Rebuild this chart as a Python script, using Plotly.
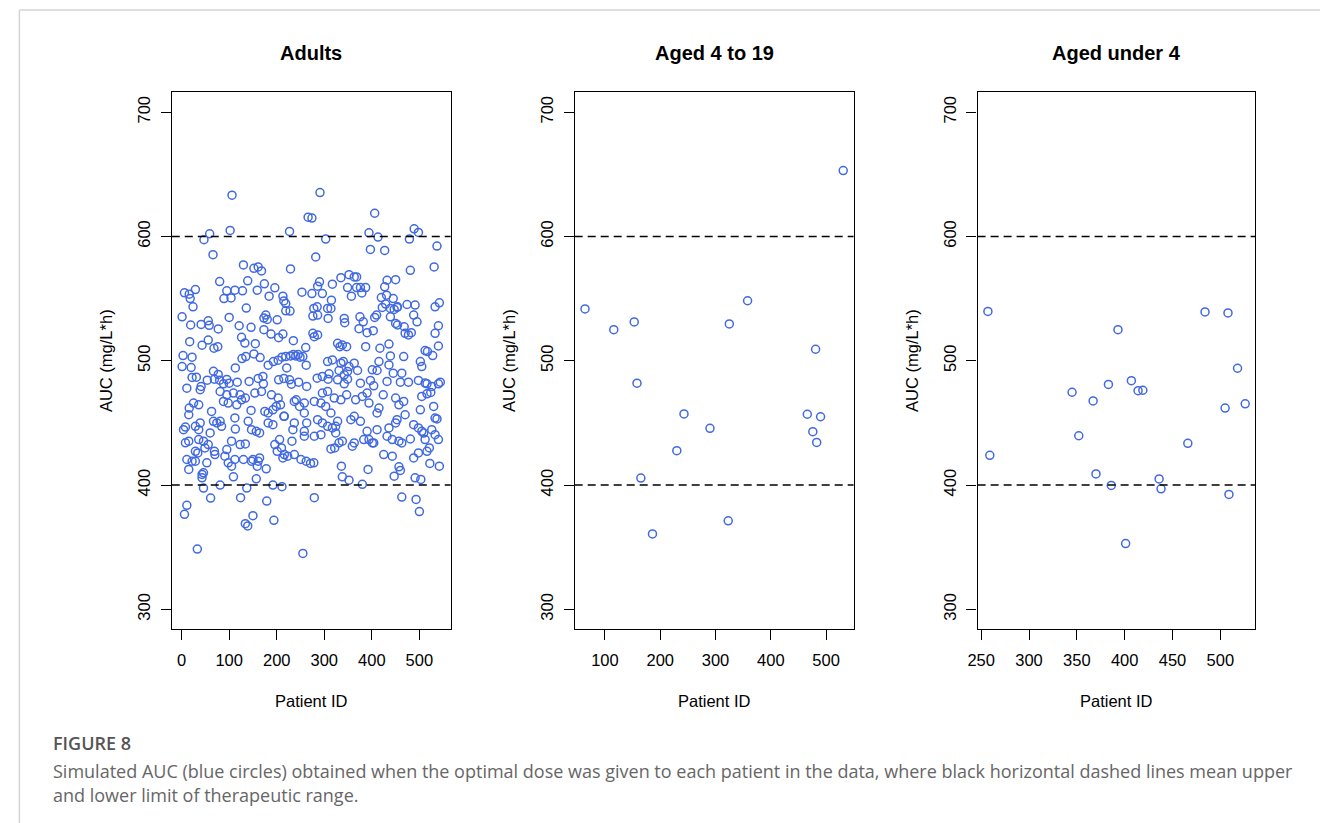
import plotly.graph_objects as go

# ---------------- data ----------------
adults_id = [106, 266, 274, 59, 47, 102, 227, 66, 130, 152, 161, 168, 229, 80, 139, 174, 95, 112, 128, 159, 196,
             6, 16, 29, 18, 89, 104, 184, 213, 215, 219, 253, 24, 136, 219, 228, 1, 100, 19, 41, 56, 58, 121, 146,
             173, 173, 177, 180, 201, 77, 188, 204, 213, 235, 17, 43, 56, 68, 76, 126, 133, 155, 261, 3, 22, 127,
             135, 152, 165, 182, 193, 203, 211, 219, 229, 235, 240, 245, 249, 255, 262, 1, 20, 113, 221,
             11, 22, 31, 41, 54, 67, 77, 69, 80, 88, 95, 100, 117, 142, 161, 171, 172, 204, 215, 227, 231, 246, 263,
             39, 81, 95, 109, 123, 134, 154, 168, 189, 203, 241, 258,
             16, 25, 36, 15, 63, 88, 98, 116, 126, 146, 175, 182, 192, 199, 208, 215, 237, 248, 258,
             4, 8, 29, 36, 39, 60, 67, 74, 81, 84, 112, 113, 140, 147, 157, 164, 182, 192, 216, 234, 237, 258, 263,
             8, 15, 36, 46, 56, 49, 34, 29, 69, 70, 105, 123, 134, 95, 91, 112, 196, 201, 206, 210, 216, 213, 223,
             232, 237, 258,
             11, 22, 29, 53, 15, 43, 46, 98, 105, 130, 147, 150, 161, 164, 159, 178, 109, 157, 251, 262,
             43, 46, 81, 61, 124, 137, 192, 211, 179, 11, 6, 150, 134, 139, 194, 33, 255,
             291, 406, 394, 413, 427, 397, 303, 489, 498, 479, 537, 282, 481, 531,
             335, 352, 363, 368, 450, 432, 427, 387, 376, 368, 349, 290, 286, 317, 274, 296, 357, 379,
             420, 431, 445, 453, 454, 429, 422, 439, 447, 315, 474, 491, 533, 542, 540, 533, 540,
             276, 286, 278, 285, 276, 286, 279, 308, 307, 314, 342, 343, 375, 382, 373, 390, 403, 406, 410,
             439, 450, 454, 468, 470, 477, 483, 488, 495, 328, 338, 347, 333, 387, 417, 436, 467, 512, 517,
             502, 505, 528, 307, 317, 335, 340, 352, 363, 370, 349, 331, 415, 411, 401, 439, 436, 445, 463,
             477, 460, 432, 516, 526, 544, 540, 498, 512, 285, 296, 310, 308, 342, 349, 376, 397, 404, 342, 328,
             296, 307, 293, 303, 314, 279, 321, 335, 347, 366, 380, 394, 390, 411, 415, 424, 450, 457, 467,
             505, 516, 524, 530, 537, 502, 470,
             286, 296, 307, 317, 324, 328, 331, 338, 324, 279, 293, 356, 363, 376, 359, 363, 390, 383, 394, 401,
             404, 411, 436, 432, 443, 453, 450, 457, 463, 481, 488, 498, 505, 512, 509, 526, 533, 540, 533, 314,
             322, 425, 443, 488, 498, 516, 521, 271, 278, 336, 392, 457, 460, 447, 522, 542, 338, 352, 380, 491,
             503, 279, 463, 493, 500]
adults_auc = [633.2, 615.5, 614.8, 602.2, 597.4, 604.9, 604.1, 585.4, 577.1, 574.4, 575.5, 572.3, 573.9, 563.7,
              564.3, 561.9, 556.3, 556.8, 556.3, 556.8, 558.7, 554.7, 553.6, 557.3, 550.1, 550.1, 550.6, 552.0,
              552.0, 548.2, 546.1, 555.2, 543.4, 542.4, 540.2, 540.0, 535.4, 534.9, 528.8, 529.3, 532.2, 528.5,
              528.2, 526.9, 525.0, 534.4, 536.8, 533.3, 533.0, 525.6, 521.5, 518.6, 521.5, 516.2, 515.4, 512.5,
              516.7, 510.1, 511.4, 518.9, 514.3, 513.8, 510.6, 504.2, 502.9, 501.8, 503.4, 505.5, 502.6, 496.5,
              499.4, 500.5, 502.9, 503.4, 503.9, 505.0, 503.9, 505.0, 502.9, 503.4, 496.5, 495.4, 494.6, 494.3,
              494.3,
              478.0, 486.6, 486.8, 479.4, 484.4, 491.6, 489.0, 485.2, 484.4, 481.5, 485.0, 482.0, 482.8, 483.4,
              485.8, 487.4, 481.5, 484.7, 485.8, 484.7, 481.2, 482.8, 479.4,
              476.7, 475.3, 472.6, 474.0, 472.6, 470.0, 474.0, 475.3, 472.6, 470.0, 468.6, 466.0,
              462.0, 466.0, 464.6, 456.6, 459.3, 467.3, 466.0, 464.6, 468.6, 460.1, 459.3, 458.0, 460.6, 463.3,
              464.6, 455.3, 467.3, 463.3, 458.0,
              444.6, 446.7, 447.3, 444.6, 450.0, 442.0, 451.3, 450.0, 451.3, 447.3, 454.0, 445.1, 451.3, 444.6,
              443.3, 442.0, 450.0, 448.6, 455.3, 444.6, 450.0, 443.3, 450.0,
              434.0, 435.3, 436.6, 435.3, 432.6, 429.9, 425.9, 427.2, 427.2, 424.6, 435.3, 432.6, 433.1, 428.6,
              423.3, 420.6, 432.6, 427.2, 436.6, 429.9, 424.6, 421.9, 423.3, 435.3, 424.6, 439.3,
              420.6, 419.2, 419.2, 417.9, 412.6, 408.6, 409.9, 417.9, 415.2, 420.6, 419.2, 420.6, 419.2, 421.9,
              415.2, 413.1, 406.7, 405.1, 420.6, 419.2,
              405.9, 397.6, 400.0, 389.6, 389.9, 397.6, 400.0, 398.7, 387.2, 383.7, 376.5, 375.4, 369.0, 367.2,
              371.7, 348.5, 345.0,
              635.3, 618.7, 603.0, 599.5, 588.8, 589.6, 597.9, 606.2, 603.3, 597.9, 592.3, 583.5, 572.8, 575.5,
              566.9, 569.3, 567.5, 567.5, 565.3, 564.8, 559.5, 558.9, 558.9, 558.9, 558.9, 563.5, 560.0, 561.6,
              554.1, 554.1, 552.0, 554.6,
              550.9, 552.8, 550.1, 542.9, 543.4, 545.6, 542.9, 542.1, 541.3, 548.8, 545.3, 544.8, 543.4, 546.6,
              528.2, 522.1, 511.9,
              536.0, 536.8, 542.1, 543.4, 522.1, 520.8, 519.4, 534.1, 542.1, 542.1, 534.1, 530.6, 535.4, 531.4,
              525.8, 522.6, 524.2, 534.9, 536.8,
              535.4, 530.1, 528.8, 527.4, 522.1, 520.8, 522.6, 536.8, 531.4, 514.1, 512.7, 511.4, 511.4, 511.4,
              510.1, 513.5, 503.4, 508.2, 507.4,
              499.4, 495.4, 504.2, 499.4, 500.7, 498.1, 499.4, 495.4, 498.1, 492.2, 491.4, 492.2, 499.4, 492.2,
              492.7, 503.9, 496.7, 490.0, 490.0,
              482.8, 482.8, 483.4, 481.5, 479.4, 482.8, 481.5, 484.2, 482.1, 486.0, 487.4, 489.5, 485.2, 488.7,
              485.2, 482.0, 484.2, 479.9, 481.5, 484.7,
              474.0, 475.3, 466.0, 463.3, 458.0, 467.3, 470.0, 468.6, 472.6, 468.6, 471.3, 466.0, 474.0, 458.0,
              462.0, 472.6, 470.0, 464.6, 467.3,
              471.3, 473.4, 474.5, 463.3, 453.2, 460.6, 456.6,
              452.6, 450.0, 447.3, 446.0, 447.3, 451.3, 434.0, 435.3, 442.0, 439.3, 440.6, 452.6, 455.3, 451.3,
              431.3, 433.9, 443.3, 436.6, 436.6, 433.9, 433.9, 444.6, 446.0, 439.3, 436.6, 452.6, 450.0, 435.3,
              433.9, 437.1, 448.6, 446.0, 443.3, 436.6, 441.9, 444.6, 440.6, 436.6, 453.9, 429.1,
              429.9, 424.6, 423.3, 421.9, 425.9, 427.2, 429.9, 417.4, 417.9, 415.2, 412.6, 414.7, 411.8, 407.2,
              417.4, 415.2, 406.7, 404.0, 400.6, 405.9,
              404.6, 389.9, 390.4, 388.5, 378.7]

teen_id = [64, 116, 153, 158, 165, 186, 230, 243, 290, 323, 325, 358, 466, 476, 481, 483, 490, 531]
teen_auc = [541.7, 525.0, 531.3, 482.0, 405.7, 360.7, 427.7, 457.3, 445.7, 371.3, 529.7, 548.3, 457.0, 443.0,
            509.3, 434.3, 455.0, 653.0]

under4_id = [257, 259, 345, 352, 367, 370, 383, 386, 393, 401, 407, 414, 419, 436, 438, 466, 484, 505, 508, 509,
             518, 526]
under4_auc = [539.7, 424.0, 474.7, 439.7, 467.7, 409.0, 481.0, 399.7, 525.0, 353.0, 484.0, 476.0, 476.3, 405.0,
              397.0, 433.6, 539.3, 462.0, 538.5, 392.5, 494.0, 465.4]

titles = ["Adults", "Aged 4 to 19", "Aged under 4"]
limits = [400, 600]
x_ticks = [[0, 100, 200, 300, 400, 500], [100, 200, 300, 400, 500], [250, 300, 350, 400, 450, 500]]
y_ticks = [300, 400, 500, 600, 700]

# ---------------- layout helpers ----------------
W, H = 1320, 823
panels_px = [(163, 444), (569, 850), (975, 1255)]
frame_top, frame_bot = 92.3, 629.3
blue = "rgb(65,105,225)"
font = "Liberation Sans, Arial, sans-serif"


def r_range(vals):
    lo, hi = min(vals), max(vals)
    d = (hi - lo) * 0.04
    return [lo - d, hi + d]


series = [(adults_id, adults_auc), (teen_id, teen_auc), (under4_id, under4_auc)]

fig = go.Figure()
for i, (xs, ys) in enumerate(series):
    sfx = "" if i == 0 else str(i + 1)
    fig.add_trace(go.Scatter(
        x=xs, y=ys, mode="markers", xaxis="x" + sfx, yaxis="y" + sfx,
        marker=dict(symbol="circle-open", size=8, color=blue, line=dict(width=1.5, color=blue)),
        showlegend=False, hoverinfo="x+y"))

layout = dict(width=W, height=H, margin=dict(l=0, r=0, t=0, b=0),
              paper_bgcolor="white", plot_bgcolor="white", showlegend=False,
              font=dict(family=font, color="black"))
shapes = []
annotations = []
ydom = [1 - frame_bot / H, 1 - frame_top / H]
for i, (xs, ys) in enumerate(series):
    sfx = "" if i == 0 else str(i + 1)
    l, r = panels_px[i]
    axstyle = dict(showline=True, mirror=True, linecolor="black", linewidth=1.3, showgrid=False,
                   zeroline=False, ticks="outside", ticklen=10, tickwidth=1.3, tickcolor="black",
                   tickfont=dict(family=font, size=16.5, color="black"))
    layout["xaxis" + sfx] = dict(domain=[l / W, r / W], range=r_range(xs), tickvals=x_ticks[i],
                                 anchor="y" + sfx, ticklabelstandoff=6, **axstyle)
    layout["yaxis" + sfx] = dict(domain=ydom, range=[284, 716], tickvals=y_ticks, tickangle=-90,
                                 anchor="x" + sfx, ticklabelstandoff=4, **axstyle)
    for lim in limits:
        shapes.append(dict(type="line", xref="x" + sfx + " domain", yref="y" + sfx, x0=0, x1=1, y0=lim, y1=lim,
                           line=dict(color="black", width=1.5, dash="8px,5px")))
    cx = (l + r) / 2 / W
    annotations.append(dict(text="<b>" + titles[i] + "</b>", x=cx, y=1 - 53 / H, xref="paper", yref="paper",
                            showarrow=False, xanchor="center", yanchor="middle",
                            font=dict(family=font, size=20, color="black")))
    annotations.append(dict(text="Patient ID", x=cx, y=1 - 701 / H, xref="paper", yref="paper",
                            showarrow=False, xanchor="center", yanchor="middle",
                            font=dict(family=font, size=16.5, color="black")))
    annotations.append(dict(text="AUC (mg/L*h)", x=(l - 66) / W, y=1 - ((frame_top + frame_bot) / 2) / H,
                            xref="paper", yref="paper", showarrow=False, textangle=-90,
                            xanchor="center", yanchor="middle",
                            font=dict(family=font, size=16.5, color="black")))

cap_font = "Open Sans, Noto Sans, sans-serif"
annotations.append(dict(text="FIGURE 8", x=41 / W, y=1 - 743 / H, xref="paper", yref="paper", showarrow=False,
                        xanchor="left", yanchor="middle",
                        font=dict(family=cap_font, size=18, color="#555555", weight=600)))
annotations.append(dict(text="Simulated AUC (blue circles) obtained when the optimal dose was given to each patient "
                             "in the data, where black horizontal dashed lines mean upper",
                        x=41 / W, y=1 - 771 / H, xref="paper", yref="paper", showarrow=False,
                        xanchor="left", yanchor="middle", font=dict(family=cap_font, size=18, color="#666666")))
annotations.append(dict(text="and lower limit of therapeutic range.",
                        x=41 / W, y=1 - 795 / H, xref="paper", yref="paper", showarrow=False,
                        xanchor="left", yanchor="middle", font=dict(family=cap_font, size=18, color="#666666")))
# light frame of the figure box (top and left edges)
shapes.append(dict(type="line", xref="paper", yref="paper", x0=9.5 / W, x1=1, y0=1 - 10 / H, y1=1 - 10 / H,
                   line=dict(color="#d4d4d4", width=1.5)))
shapes.append(dict(type="line", xref="paper", yref="paper", x0=9.5 / W, x1=9.5 / W, y0=0, y1=1 - 10 / H,
                   line=dict(color="#d4d4d4", width=1.5)))
layout["shapes"] = shapes
layout["annotations"] = annotations
fig.update_layout(**layout)

fig.write_html("out.html", config={"displayModeBar": False},
               post_script="document.body.style.margin='0';document.body.style.overflow='hidden';")
